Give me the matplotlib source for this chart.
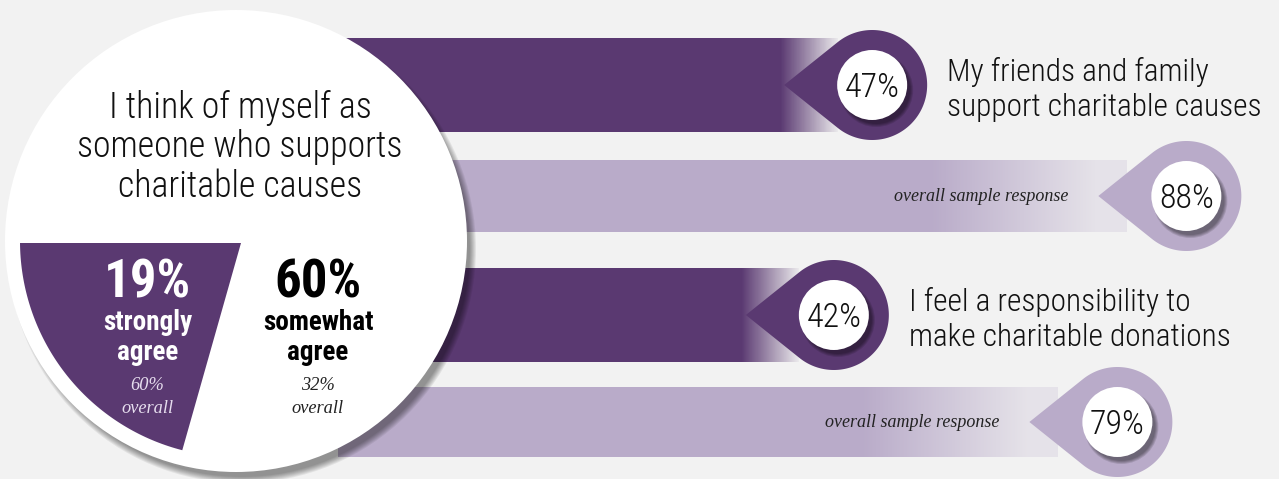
import os
import numpy as np
import matplotlib
matplotlib.use("Agg")
import matplotlib.pyplot as plt
from matplotlib import font_manager
from matplotlib.font_manager import FontProperties
from matplotlib.colors import to_rgb
from matplotlib.patches import Circle, Polygon
from matplotlib.transforms import ScaledTranslation

# ---------------- data ----------------
self_view_title = ["I think of myself as", "someone who supports", "charitable causes"]
agree_levels = [["strongly", "agree"], ["somewhat", "agree"]]
agree_pct = [19, 60]
agree_overall_pct = [60, 32]

statements = [["My friends and family", "support charitable causes"],
              ["I feel a responsibility to", "make charitable donations"]]
segment_pct = [47, 42]
overall_pct = [88, 79]
overall_label = "overall sample response"

# ---------------- style ----------------
W, H = 1279, 479
BG = "#f2f2f2"
DARK = "#5a3971"
LIGHT = "#b9abc9"
INK = "#111111"


def _weight(w):
    if isinstance(w, (int, float)):
        return int(w)
    return {"ultralight": 200, "light": 300, "normal": 400, "regular": 400, "book": 400,
            "medium": 500, "semibold": 600, "demibold": 600, "bold": 700,
            "heavy": 800, "black": 900}.get(str(w).lower(), 400)


def pick_sans(weight):
    """Prefer a condensed sans face; fall back to a regular-width one."""
    pref = ["Liberation Sans Narrow", "Roboto Condensed", "Noto Sans", "Open Sans",
            "DejaVu Sans", "Liberation Sans"]
    best = None
    for f in font_manager.fontManager.ttflist:
        base = os.path.basename(f.fname).lower()
        nm = f.name
        if "mono" in nm.lower() or "serif" in nm.lower() or "cjk" in nm.lower():
            continue
        if f.style != "normal":
            continue
        cond = ("narrow" in nm.lower() or "condensed" in nm.lower()
                or "condensed" in str(f.stretch) or "condensed" in base or "narrow" in base)
        if not cond:
            continue
        rank = next((i for i, p in enumerate(pref) if nm.startswith(p)), len(pref))
        key = (abs(_weight(f.weight) - weight), "semi" in base, rank)
        if best is None or key < best[0]:
            best = (key, f.fname)
    if best is not None and best[0][0] <= 150:
        return FontProperties(fname=best[1])
    fam = "Roboto" if any(f.name == "Roboto" for f in font_manager.fontManager.ttflist) else "Liberation Sans"
    return FontProperties(family=fam, weight=weight)


SANS = pick_sans(300)
SANS_BOLD = pick_sans(700)
SERIF_IT = FontProperties(family="Liberation Serif", style="italic")

PX_PER_PCT = 7.663          # horizontal scale of the bar axis
ZERO_PX = 512               # pixel position of 0 %
BAR_START_PX = 338

fig = plt.figure(figsize=(W / 100, H / 100), dpi=100, facecolor=BG)
renderer = fig.canvas.get_renderer()


def fit(fp, text, width_px, max_pt):
    """font properties sized so that `text` is about width_px wide"""
    p = fp.copy()
    p.set_size(20)
    t = fig.text(0, 0, text, fontproperties=p)
    w = t.get_window_extent(renderer).width
    t.remove()
    p.set_size(min(max_pt, 20 * width_px / w))
    return p


F_TITLE = fit(SANS, "someone who supports", 325, 27.4)
F_STATE = fit(SANS, "support charitable causes", 314, 24.5)
F_PIN = fit(SANS, "47%", 55, 24.5)
F_BIG = fit(SANS_BOLD, "60%", 91, 38)
F_LEVEL = fit(SANS_BOLD, "somewhat", 110, 19.5)
F_NOTE = fit(SERIF_IT, "overall sample response", 176, 13)
F_SUB = fit(SERIF_IT, "overall", 52, 13.5)

# ---------- bar axis: x in percent, y in pixels from the top ----------
ax = fig.add_axes([0, 0, 1, 1], zorder=1)
ax.set_facecolor("none")
ax.axis("off")


def dx(px):
    """pixel length -> percent units on the bar axis"""
    return px / PX_PER_PCT


bar_start = dx(BAR_START_PX - ZERO_PX)


def at(value, yc):
    return ScaledTranslation(value, yc, ax.transData)


def gradient_bar(value, yc, h, color, fade, end_px):
    x1 = value + dx(end_px)
    n = 900
    xs = np.linspace(bar_start, x1, n)
    off = (xs - value) * PX_PER_PCT
    alpha = np.interp(off, fade[0], fade[1])
    rgba = np.zeros((2, n, 4))
    rgba[..., :3] = to_rgb(color)
    rgba[..., 3] = alpha
    ax.imshow(rgba, extent=(bar_start, x1, yc + h / 2, yc - h / 2),
              aspect="auto", interpolation="nearest", zorder=1)


R_OUT, TIP, R_IN = 55, 88, 35


def teardrop(value, yc, color, label):
    phi = np.arccos(R_OUT / TIP)
    t = np.linspace(-np.pi + phi, np.pi - phi, 160)
    pts = np.column_stack([R_OUT * np.cos(t), R_OUT * np.sin(t)])
    pts = np.vstack([[-TIP, 0], pts])
    ax.add_patch(Polygon(pts, closed=True, transform=at(value, yc),
                         facecolor=color, edgecolor="none", zorder=3))
    for k in range(4):
        ax.add_patch(Circle((4, -5), R_IN + 2 - k, transform=at(value, yc),
                            facecolor="black", edgecolor="none", alpha=0.12, zorder=4))
    ax.add_patch(Circle((0, 0), R_IN, transform=at(value, yc),
                        facecolor="white", edgecolor="none", zorder=5))
    ax.text(value, yc + 12, label, ha="center", va="baseline",
            fontproperties=F_PIN, color=INK, zorder=6)


rows = [(85, 94), (196, 71), (315, 94), (422, 70)]
DARK_FADE = ([-92, -35], [1.0, 0.05])
LIGHT_FADE = ([-255, -90], [1.0, 0.22])

for i in range(len(statements)):
    yc_d, h_d = rows[2 * i]
    yc_l, h_l = rows[2 * i + 1]
    v = segment_pct[i]
    o = overall_pct[i]

    gradient_bar(v, yc_d, h_d, DARK, DARK_FADE, -35)
    teardrop(v, yc_d, DARK, f"{v}%")
    ax.text(v + dx(75), yc_d - 4, statements[i][0], ha="left", va="baseline",
            fontproperties=F_STATE, color=INK)
    ax.text(v + dx(75), yc_d + 31, statements[i][1], ha="left", va="baseline",
            fontproperties=F_STATE, color=INK)

    gradient_bar(o, yc_l, h_l, LIGHT, LIGHT_FADE, -60)
    teardrop(o, yc_l, LIGHT, f"{o}%")
    ax.text(o + dx(-118), yc_l + 5, overall_label, ha="right", va="baseline",
            fontproperties=F_NOTE, color="#222222")

ax.set_xlim(-ZERO_PX / PX_PER_PCT, (W - ZERO_PX) / PX_PER_PCT)
ax.set_ylim(H, 0)

# ---------- left panel in pixel coordinates ----------
ax2 = fig.add_axes([0, 0, 1, 1], zorder=2)
ax2.set_facecolor("none")
ax2.axis("off")
ax2.set_xlim(0, W)
ax2.set_ylim(H, 0)

CX, CY, R = 236, 241, 231
for k in range(7):
    ax2.add_patch(Circle((CX + 6, CY + 8), R + 3 - k, facecolor="black",
                         edgecolor="none", alpha=0.065, zorder=1))
ax2.add_patch(Circle((CX, CY), R, facecolor="white", edgecolor="none", zorder=2))

# purple segment for "strongly agree"
R_SEG = 216
top_y = CY + 2
th_top = np.pi - np.arcsin((top_y - CY) / R_SEG)
th_bot = np.deg2rad(104.4)
arc = np.linspace(th_bot, th_top, 80)
seg = [(CX + 5, top_y)]
seg += [(CX + R_SEG * np.cos(a), CY + R_SEG * np.sin(a)) for a in arc]
ax2.add_patch(Polygon(seg, closed=True, facecolor=DARK, edgecolor="none", zorder=3))

for j, line in enumerate(self_view_title):
    ax2.text(240, 118 + 39.3 * j, line, ha="center", va="baseline",
             fontproperties=F_TITLE, color=INK, zorder=4)

col_x = [147.5, 318]
col_main = ["white", "black"]
col_sub = ["#e6ddee", "#222222"]
for j in range(len(agree_pct)):
    x = col_x[j]
    ax2.text(x, 297, f"{agree_pct[j]}%", ha="center", va="baseline",
             fontproperties=F_BIG, color=col_main[j], zorder=4)
    ax2.text(x, 330, agree_levels[j][0], ha="center", va="baseline",
             fontproperties=F_LEVEL, color=col_main[j], zorder=4)
    ax2.text(x, 360, agree_levels[j][1], ha="center", va="baseline",
             fontproperties=F_LEVEL, color=col_main[j], zorder=4)
    ax2.text(x, 390, f"{agree_overall_pct[j]}%", ha="center", va="baseline",
             fontproperties=F_SUB, color=col_sub[j], zorder=4)
    ax2.text(x, 413, "overall", ha="center", va="baseline",
             fontproperties=F_SUB, color=col_sub[j], zorder=4)

fig.savefig("out.png", dpi=100, facecolor=BG)
